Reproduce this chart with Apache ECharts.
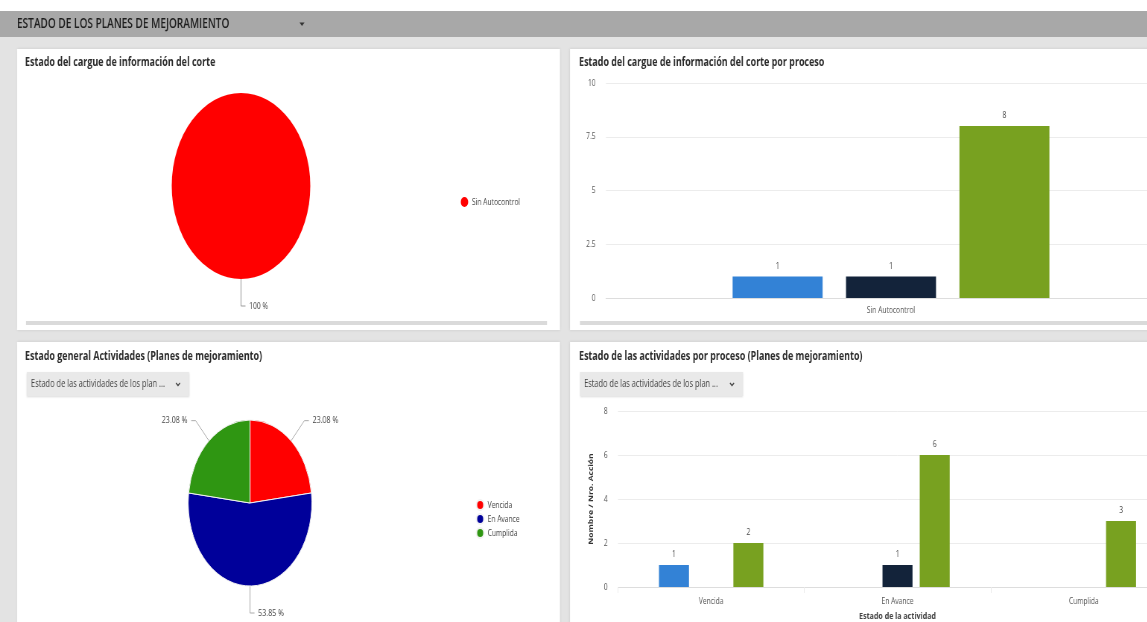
<!DOCTYPE html>
<html>
<head>
<meta charset="utf-8">
<title>Estado de los planes de mejoramiento</title>
<script src="https://cdn.jsdelivr.net/npm/echarts@6/dist/echarts.min.js"></script>
<style>
  html, body { margin: 0; padding: 0; overflow: hidden; background: #e3e3e3; }
  #wrap { width: 1147px; height: 622px; overflow: hidden; }
  /* the dashboard is laid out wider and condensed horizontally */
  #chart { height: 622px; transform-origin: 0 0; }
</style>
</head>
<body>
<div id="wrap"><div id="chart"></div></div>
<script>
// ---- data ----
const cargueNames = ['Sin Autocontrol'];
const cargueValues = [10];

const procesoCategories = ['Sin Autocontrol'];
const procesoSeries = ['Proceso 1', 'Proceso 2', 'Proceso 3'];
const procesoValues = [[1], [1], [8]];

const actividadNames = ['Vencida', 'En Avance', 'Cumplida'];
const actividadValues = [3, 7, 3];

const estadoCategories = ['Vencida', 'En Avance', 'Cumplida'];
const estadoSeries = ['Proceso 1', 'Proceso 2', 'Proceso 3'];
const estadoValues = [[1, null, null], [null, 1, null], [2, 6, 3]];

const barColors = ['#3382d6', '#13233a', '#78a120'];
const pieColors = ['#ff0000', '#00009a', '#2f9612'];

// ---- layout helpers ----
const S = 0.745;                 // horizontal condensing factor
const L = v => v / S;            // screen x -> layout x
const W = 1200 / S;              // dashboard runs past the right edge of the window
const FONT = '"Open Sans", "Noto Sans", sans-serif';

const el = document.getElementById('chart');
el.style.width = W + 'px';
el.style.transform = 'scaleX(' + S + ')';
const chart = echarts.init(el, null, { renderer: 'canvas' });

function pct(values) {
  const total = values.reduce((a, b) => a + b, 0);
  return p => parseFloat((p.value / total * 100).toFixed(2)) + ' %';
}

function panel(x0, y0, x1, y1) {
  return {
    type: 'rect', z: 0,
    shape: { x: L(x0), y: y0, width: L(x1) - L(x0), height: y1 - y0 },
    style: { fill: '#ffffff', shadowBlur: 3, shadowColor: 'rgba(0,0,0,0.12)' }
  };
}
function panelTitle(x, y, text) {
  return {
    type: 'text', z: 1, x: L(x), y: y,
    style: { text: text, fontFamily: FONT, fontSize: 12, fontWeight: 'bold', fill: '#2b2b2b', verticalAlign: 'middle' }
  };
}
function dropdown(x0, y0, x1, y1) {
  return [
    { type: 'rect', z: 1, shape: { x: L(x0), y: y0, width: L(x1) - L(x0), height: y1 - y0 },
      style: { fill: '#e9e9e9', shadowBlur: 2, shadowOffsetY: 1, shadowColor: 'rgba(0,0,0,0.15)' } },
    { type: 'text', z: 2, x: L(x0 + 4), y: (y0 + y1) / 2,
      style: { text: 'Estado de las actividades de los plan ...', fontFamily: FONT, fontSize: 10, fill: '#444', verticalAlign: 'middle' } },
    { type: 'polyline', z: 2,
      shape: { points: [[L(x1 - 13), (y0 + y1) / 2 - 1], [L(x1 - 11), (y0 + y1) / 2 + 1.5], [L(x1 - 9), (y0 + y1) / 2 - 1]] },
      style: { stroke: '#444', lineWidth: 1.4, fill: null } }
  ];
}

const graphics = [
  { type: 'rect', z: 0, shape: { x: 0, y: 0, width: W, height: 11 }, style: { fill: '#ffffff' } },
  { type: 'rect', z: 0, shape: { x: 0, y: 11, width: W, height: 26 }, style: { fill: '#a8a8a8' } },
  { type: 'text', z: 1, x: L(17), y: 24,
    style: { text: 'ESTADO DE LOS PLANES DE MEJORAMIENTO', fontFamily: FONT, fontSize: 13.5, fontWeight: 600, fill: '#1d1d1d', verticalAlign: 'middle' } },
  { type: 'polygon', z: 1, shape: { points: [[L(299.5), 22.5], [L(304.5), 22.5], [L(302), 26]] }, style: { fill: '#333' } },

  panel(17, 49, 560, 330),
  panel(570, 49, 1200, 330),
  panel(17, 342, 560, 640),
  panel(570, 342, 1200, 640),

  panelTitle(25, 63, 'Estado del cargue de información del corte'),
  panelTitle(579, 63, 'Estado del cargue de información del corte por proceso'),
  panelTitle(25, 357, 'Estado general Actividades (Planes de mejoramiento)'),
  panelTitle(579, 357, 'Estado de las actividades por proceso (Planes de mejoramiento)'),

  { type: 'rect', z: 1, shape: { x: L(26), y: 321, width: L(547) - L(26), height: 4 }, style: { fill: '#dadada' } },
  { type: 'rect', z: 1, shape: { x: L(580), y: 321, width: W - L(580), height: 4 }, style: { fill: '#dadada' } }
].concat(dropdown(27, 372, 189, 396), dropdown(580, 372, 743, 396));

const axisLabelStyle = { fontFamily: FONT, fontSize: 9, color: '#555' };
const valueLabel = { show: true, position: 'top', distance: 6, fontFamily: FONT, fontSize: 9, color: '#444' };

const option = {
  backgroundColor: '#e3e3e3',
  animation: false,
  textStyle: { fontFamily: FONT },
  graphic: graphics,
  legend: [
    {
      data: cargueNames, orient: 'vertical', left: L(457), top: 192,
      icon: 'circle', itemWidth: 10, itemHeight: 10, itemGap: 4,
      textStyle: { fontFamily: FONT, fontSize: 9, color: '#444' }
    },
    {
      data: actividadNames, orient: 'vertical', left: L(472), top: 494,
      icon: 'circle', itemWidth: 10, itemHeight: 10, itemGap: 2,
      textStyle: { fontFamily: FONT, fontSize: 9, color: '#444', lineHeight: 11 }
    }
  ],
  grid: [
    { left: L(606), width: L(1176) - L(606), top: 83, height: 215 },
    { left: L(618), width: L(1177) - L(618), top: 411, height: 177 }
  ],
  xAxis: [
    {
      gridIndex: 0, type: 'category', data: procesoCategories,
      axisLine: { lineStyle: { color: '#dddddd' } }, axisTick: { show: false },
      axisLabel: Object.assign({ margin: 8 }, axisLabelStyle)
    },
    {
      gridIndex: 1, type: 'category', data: estadoCategories,
      name: 'Estado de la actividad', nameLocation: 'middle', nameGap: 24,
      nameTextStyle: { fontFamily: FONT, fontSize: 9.5, fontWeight: 'bold', color: '#444' },
      axisLine: { lineStyle: { color: '#dddddd' } },
      axisTick: { show: true, length: 6, lineStyle: { color: '#ececec' } },
      axisLabel: Object.assign({ margin: 10 }, axisLabelStyle)
    }
  ],
  yAxis: [
    {
      gridIndex: 0, type: 'value', min: 0, max: 10, interval: 2.5,
      axisLine: { show: false }, axisTick: { show: false },
      splitLine: { lineStyle: { color: '#ececec' } },
      axisLabel: Object.assign({ margin: 14 }, axisLabelStyle)
    },
    {
      gridIndex: 1, type: 'value', min: 0, max: 8, interval: 2,
      name: 'Nombre / Nro. Acción', nameLocation: 'middle', nameRotate: 90, nameGap: 31,
      nameTextStyle: { fontFamily: FONT, fontSize: 8.5, fontWeight: 'bold', color: '#333' },
      axisLine: { show: false }, axisTick: { show: false },
      splitLine: { lineStyle: { color: '#ececec' } },
      axisLabel: Object.assign({ margin: 14 }, axisLabelStyle)
    }
  ],
  series: [
    {
      type: 'pie', name: 'Estado del cargue',
      center: [L(241), 186], radius: 93, startAngle: 90,
      data: cargueNames.map((n, i) => ({ name: n, value: cargueValues[i] })),
      color: ['#ff0000'],
      itemStyle: { borderColor: '#fff', borderWidth: 0 },
      label: { formatter: pct(cargueValues), fontFamily: FONT, fontSize: 9, color: '#444' },
      labelLine: { length: 27, length2: 6, lineStyle: { color: '#9a9a9a', width: 1 } }
    },
    {
      type: 'pie', name: 'Estado general',
      center: [L(250), 503], radius: 83, startAngle: 90,
      data: actividadNames.map((n, i) => ({ name: n, value: actividadValues[i] })),
      color: pieColors,
      itemStyle: { borderColor: '#f2f2f2', borderWidth: 1 },
      label: { formatter: pct(actividadValues), fontFamily: FONT, fontSize: 9.5, color: '#444' },
      labelLine: { length: 27, length2: 6, lineStyle: { color: '#aaaaaa', width: 1 } }
    }
  ].concat(
    procesoSeries.map((n, i) => ({
      type: 'bar', name: n, xAxisIndex: 0, yAxisIndex: 0,
      data: procesoValues[i], barWidth: L(90), barGap: '26%',
      itemStyle: { color: barColors[i] }, label: valueLabel
    })),
    estadoSeries.map((n, i) => ({
      type: 'bar', name: n, xAxisIndex: 1, yAxisIndex: 1,
      data: estadoValues[i], barWidth: L(30), barGap: '24%',
      itemStyle: { color: barColors[i] }, label: valueLabel
    }))
  )
};

chart.setOption(option);
</script>
</body>
</html>
